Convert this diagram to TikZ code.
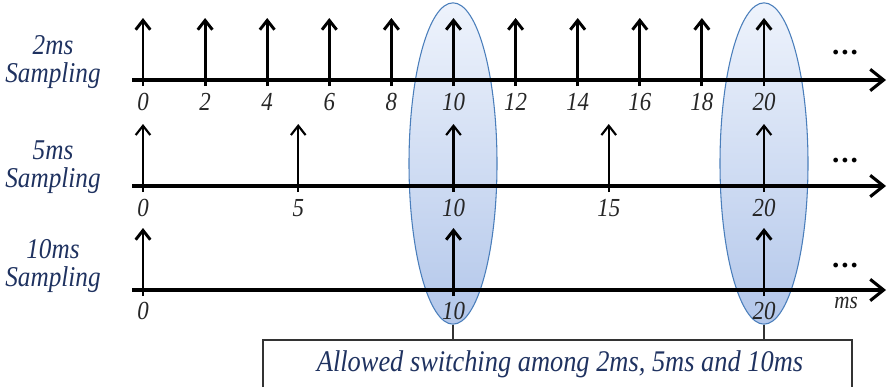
\documentclass[tikz,border=0pt]{standalone}
\usepackage{fontspec}
\setmainfont{Liberation Serif}
\newfontfamily\narrowserif[FakeStretch=0.88]{Liberation Serif}
\usetikzlibrary{arrows.meta, positioning, shapes.geometric}
\definecolor{labnavy}{HTML}{1F3260}
\definecolor{ovalline}{HTML}{4A7EBB}
\definecolor{ovaltop}{HTML}{EEF3FC}
\definecolor{ovalbot}{HTML}{B3C7EA}
\tikzset{
  axisline/.style={line width=2.3pt, -{Straight Barb[length=10pt, width=16pt, line width=2.3pt]}},
  oval/.style={ellipse, draw=ovalline, line width=0.8pt, top color=ovaltop, bottom color=ovalbot,
    minimum width=66pt, minimum height=241pt, inner sep=0pt},
  rowlab/.style={align=center, text=labnavy, font=\narrowserif\fontsize{21.5}{21}\selectfont\itshape},
  boxlab/.style={text=labnavy, font=\narrowserif\fontsize{22.5}{24}\selectfont\itshape},
  ticklab/.style={text=black!85, font=\narrowserif\fontsize{19.5}{20}\selectfont\itshape},
  moredots/.style={font=\fontsize{22}{22}\selectfont\bfseries},
  bracket/.style={line width=0.9pt, draw=black!80}
}
% sample arrow: time, axis y, top y, width
\newcommand{\samp}[4]{%
  \draw[line width=#4, -{Straight Barb[length=7pt, width=11pt, line width=#4]}]
    ({143+31.05*#1},{#2+6}) -- ({143+31.05*#1},#3);}
% tick label: time, y, name
\newcommand{\tlab}[3]{\node[ticklab] (#3) at ({143+31.05*#1},#2) {#1};}

\begin{document}
\begin{tikzpicture}[x=0.75pt, y=-0.75pt]
\useasboundingbox (0,0) rectangle (892,387);
% switching ovals
\node[oval] (sw10) at (453,163.5) {};
\node[oval] (sw20) at (764,163.5) {};
% 2ms row
\node[rowlab] (lab2) at (53,62) {2ms\\Sampling};
\coordinate (ax2s) at (132,80);
\coordinate (ax2e) at (886,80);
\draw[axisline] (ax2s) -- (ax2e);
\samp{0}{80}{18}{2.2pt}
\samp{2}{80}{18}{2.2pt}
\samp{4}{80}{18}{2.2pt}
\samp{6}{80}{18}{2.2pt}
\samp{8}{80}{18}{2.2pt}
\samp{10}{80}{18}{2.2pt}
\samp{12}{80}{18}{2.2pt}
\samp{14}{80}{18}{2.2pt}
\samp{16}{80}{18}{2.2pt}
\samp{18}{80}{18}{2.2pt}
\samp{20}{80}{18}{2.2pt}
\tlab{0}{102}{a0}
\tlab{2}{102}{a2}
\tlab{4}{102}{a4}
\tlab{6}{102}{a6}
\tlab{8}{102}{a8}
\tlab{10}{102}{a10}
\tlab{12}{102}{a12}
\tlab{14}{102}{a14}
\tlab{16}{102}{a16}
\tlab{18}{102}{a18}
\tlab{20}{102}{a20}
\node[moredots] (dots2) at (845,53) {.\hspace{1.5pt}.\hspace{1.5pt}.};
% 5ms row
\node[rowlab] (lab5) at (53,167) {5ms\\Sampling};
\coordinate (ax5s) at (132,186);
\coordinate (ax5e) at (886,186);
\draw[axisline] (ax5s) -- (ax5e);
\samp{0}{186}{124}{1.6pt}
\samp{5}{186}{124}{1.6pt}
\samp{10}{186}{124}{1.6pt}
\samp{15}{186}{124}{1.6pt}
\samp{20}{186}{124}{1.6pt}
\tlab{0}{208}{b0}
\tlab{5}{208}{b5}
\tlab{10}{208}{b10}
\tlab{15}{208}{b15}
\tlab{20}{208}{b20}
\node[moredots] (dots5) at (845,161) {.\hspace{1.5pt}.\hspace{1.5pt}.};
% 10ms row
\node[rowlab] (lab10) at (53,266) {10ms\\Sampling};
\coordinate (ax10s) at (132,290);
\coordinate (ax10e) at (886,290);
\draw[axisline] (ax10s) -- (ax10e);
\samp{0}{290}{228}{2.2pt}
\samp{10}{290}{228}{2.2pt}
\samp{20}{290}{228}{2.2pt}
\tlab{0}{311}{c0}
\tlab{10}{311}{c10}
\tlab{20}{311}{c20}
\node[moredots] (dots10) at (845,266) {.\hspace{1.5pt}.\hspace{1.5pt}.};
\node[ticklab, font=\narrowserif\fontsize{18}{20}\selectfont\itshape] (unit) at (846,303) {ms};
% switching box
\node[boxlab] (allow) at (560,364) {Allowed switching among 2ms, 5ms and 10ms};
\coordinate (boxtl) at (263,340);
\coordinate (boxtr) at (852,340);
\coordinate (boxbl) at (263,387);
\coordinate (boxbr) at (852,387);
\draw[bracket] (boxbl) -- (boxtl) -- (boxtr) -- (boxbr);
\draw[bracket] (sw10.south) -- (sw10.south |- boxtl);
\draw[bracket] (sw20.south) -- (sw20.south |- boxtl);
\end{tikzpicture}
\end{document}
